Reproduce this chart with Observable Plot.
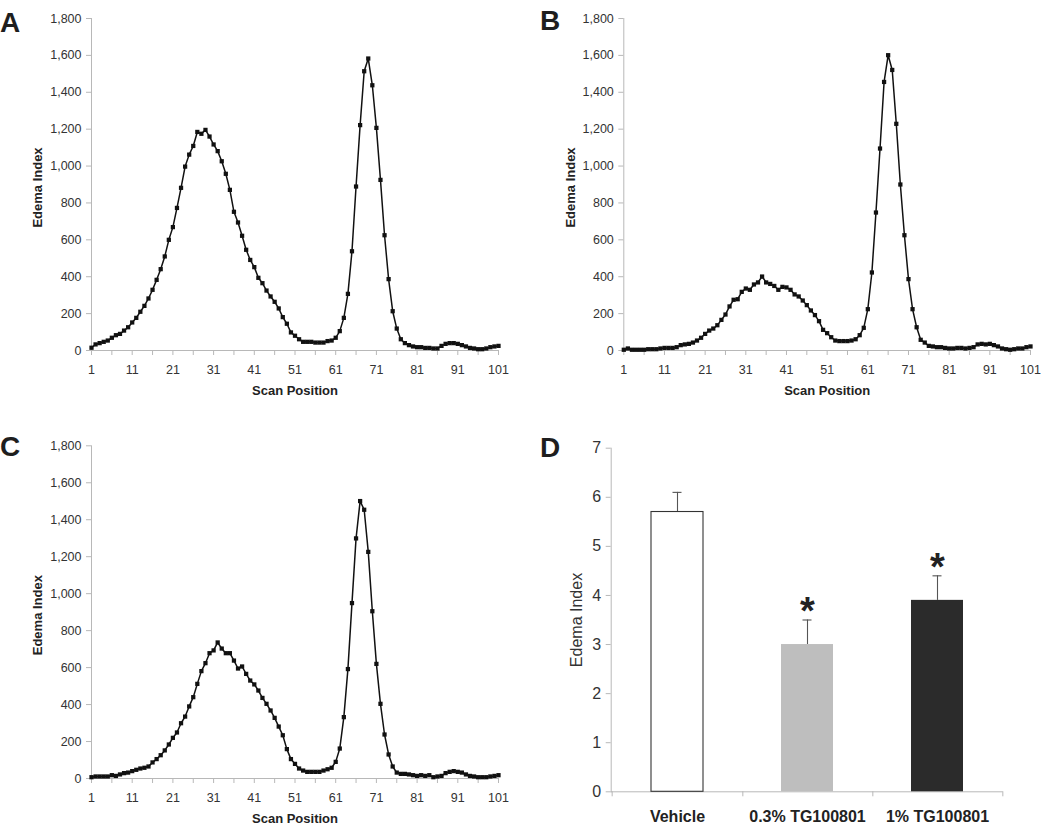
<!DOCTYPE html>
<html>
<head>
<meta charset="utf-8">
<script src="https://cdn.jsdelivr.net/npm/d3@7"></script>
<script src="https://cdn.jsdelivr.net/npm/@observablehq/plot@0.6"></script>
<style>
  body { margin: 0; background: #fff; }
  #fig { position: relative; width: 1050px; height: 836px; font-family: "Liberation Sans", Arial, Helvetica, sans-serif; background: #fff; }
  .panel { position: absolute; }
  .letter { position: absolute; font-weight: bold; font-size: 28px; line-height: 28px; color: #1e1e1e; }
</style>
</head>
<body>
<div id="fig"></div>
<script>
// ---------------- DATA ----------------
const panelA = [15,33,40,47,54,69,83,90,108,126,
  152,177,210,242,282,329,383,441,510,600,
  669,773,882,997,1062,1109,1185,1175,1196,1160,
  1117,1081,1026,958,871,752,694,622,546,491,
  452,394,365,325,293,264,228,181,145,98,
  80,61,47,47,47,43,43,43,51,54,
  69,105,177,307,538,889,1222,1514,1583,1438,
  1207,925,625,387,213,119,61,40,29,22,
  18,18,14,14,11,11,25,36,40,40,
  36,29,22,14,11,7,7,11,18,22,25];

const panelB = [4,11,4,4,4,4,7,7,7,11,
  14,14,14,18,29,33,36,43,54,69,
  90,108,119,137,166,195,239,275,278,318,
  336,329,358,369,401,369,361,350,329,345,
  342,329,304,293,271,246,217,192,159,112,
  94,72,54,51,51,51,54,61,83,123,
  224,423,748,1095,1456,1601,1521,1229,900,625,
  387,224,126,58,43,25,22,18,18,14,
  11,11,14,14,11,14,18,33,36,33,
  36,29,22,11,7,4,7,11,11,18,22];

const panelC = [7,11,11,11,11,18,14,22,29,32,
  40,47,54,58,65,87,105,126,152,184,
  220,249,299,335,390,440,512,581,624,678,
  693,736,703,678,678,638,595,606,566,530,
  509,476,436,404,368,328,281,234,159,105,
  79,54,43,36,36,36,36,43,50,58,
  90,162,332,592,949,1299,1501,1454,1226,905,
  620,404,238,130,65,32,25,25,22,18,
  14,18,14,18,7,11,14,29,36,40,
  36,32,22,14,11,7,7,7,11,14,18];

const scanTickLabels = [1, 11, 21, 31, 41, 51, 61, 71, 81, 91, 101];
const scanMinorTicks = [1, 6, 11, 16, 21, 26, 31, 36, 41, 46, 51, 56, 61, 66, 71, 76, 81, 86, 91, 96, 101];
const edemaTicks = [0, 200, 400, 600, 800, 1000, 1200, 1400, 1600, 1800];

const groups = ["Vehicle", "0.3% TG100801", "1% TG100801"];
const groupMeans = [5.7, 3.0, 3.9];
const groupErrors = [0.4, 0.5, 0.5];
const groupSignificant = [false, true, true];
const barTicks = [0, 1, 2, 3, 4, 5, 6, 7];

// ---------------- STYLE ----------------
const FONT = '"Liberation Sans", Arial, Helvetica, sans-serif';
const AXIS = "#b8b8b8";
const TEXT = "#333";
const barFills = ["#ffffff", "#bebebe", "#2b2b2b"];

const fig = document.getElementById("fig");

function place(el, left, top) {
  el.classList.add("panel");
  el.style.left = left + "px";
  el.style.top = top + "px";
  fig.appendChild(el);
}

function letter(t, left, top) {
  const d = document.createElement("div");
  d.className = "letter";
  d.textContent = t;
  d.style.left = left + "px";
  d.style.top = top + "px";
  fig.appendChild(d);
}

function scanPanel(values, dims) {
  const data = values.map((v, i) => ({pos: i + 1, value: v}));
  return Plot.plot({
    width: dims.width, height: dims.height,
    marginLeft: dims.marginLeft, marginRight: dims.marginRight,
    marginTop: dims.marginTop, marginBottom: dims.marginBottom,
    style: {fontFamily: FONT, fontSize: "12.5px", color: TEXT, background: "transparent", overflow: "visible"},
    x: {domain: [1, 101]},
    y: {domain: [0, 1800]},
    marks: [
      Plot.ruleX([1], {stroke: AXIS}),
      Plot.ruleY([0], {stroke: AXIS}),
      Plot.axisY({ticks: edemaTicks, tickFormat: d3.format(","), tickSize: 5, tickPadding: 5, stroke: AXIS, fill: TEXT, label: null}),
      Plot.axisX({ticks: scanMinorTicks, tickFormat: () => "", tickSize: 5, stroke: AXIS, label: null}),
      Plot.axisX({ticks: scanTickLabels, tickSize: 0, tickPadding: 15, fill: TEXT, label: null}),
      Plot.line(data, {x: "pos", y: "value", stroke: "#111", strokeWidth: 1.5}),
      Plot.dot(data, {x: "pos", y: "value", symbol: "square", r: 2.4, fill: "#111", stroke: "none"}),
      Plot.text(["Scan Position"], {text: d => d, frameAnchor: "bottom", textAnchor: "middle", dy: 44, fontWeight: "bold", fontSize: 13, fill: "#222"}),
      Plot.text(["Edema Index"], {text: d => d, frameAnchor: "left", textAnchor: "middle", lineAnchor: "middle", dx: dims.titleDx, dy: 3, rotate: -90, fontWeight: "bold", fontSize: 13, fill: "#222"})
    ]
  });
}

// Panel A
place(scanPanel(panelA, {width: 520, height: 400, marginLeft: 91, marginRight: 22, marginTop: 18, marginBottom: 50, titleDx: -54}), 0, 0);
// Panel B
place(scanPanel(panelB, {width: 530, height: 400, marginLeft: 103.3, marginRight: 20, marginTop: 18, marginBottom: 50, titleDx: -53}), 520, 0);
// Panel C
place(scanPanel(panelC, {width: 520, height: 416, marginLeft: 91, marginRight: 22, marginTop: 25.3, marginBottom: 58, titleDx: -54}), 0, 420);

// Panel D
const barData = groups.map((g, i) => ({group: g, mean: groupMeans[i], err: groupErrors[i], sig: groupSignificant[i]}));
const dW = 530, dML = 90.7, dMR = 47.3;
const dStep = (dW - dML - dMR) / groups.length;
const panelD = Plot.plot({
  width: dW, height: 416, marginLeft: dML, marginRight: dMR, marginTop: 27.7, marginBottom: 44.7,
  style: {fontFamily: FONT, fontSize: "16px", color: TEXT, background: "transparent", overflow: "visible"},
  x: {domain: groups, paddingInner: 0.6, paddingOuter: 0.3},
  y: {domain: [0, 7]},
  color: {domain: groups, range: barFills},
  marks: [
    Plot.frame({anchor: "left", stroke: AXIS}),
    Plot.ruleY([0], {stroke: AXIS}),
    Plot.axisY({ticks: barTicks, tickFormat: d3.format("d"), tickSize: 5, tickPadding: 5, stroke: AXIS, fill: TEXT, label: null}),
    Plot.axisX({tickSize: 5, tickFormat: () => "", dx: dStep / 2, stroke: AXIS, label: null}),
    Plot.axisX({ticks: [groups[0]], tickSize: 5, tickFormat: () => "", dx: -dStep / 2, stroke: AXIS, label: null}),
    Plot.axisX({tickSize: 0, tickPadding: 19, fontWeight: "bold", fill: "#222", label: null}),
    Plot.ruleX(barData, {x: "group", y1: "mean", y2: d => d.mean + d.err, stroke: "#555", strokeWidth: 1.1}),
    Plot.tickY(barData, {x: "group", y: d => d.mean + d.err, stroke: "#555", strokeWidth: 1.1, insetLeft: 21.5, insetRight: 21.5}),
    Plot.barY(barData, {x: "group", y: "mean", fill: "group"}),
    Plot.barY(barData.filter(d => d.group === groups[0]), {x: "group", y: "mean", fill: "none", stroke: "#333", strokeWidth: 1.1}),
    Plot.text(barData.filter(d => d.sig), {x: "group", y: d => d.mean + d.err, text: () => "*", fontSize: 38, fontWeight: "bold", fill: "#222", dy: -8}),
    Plot.text(["Edema Index"], {text: d => d, frameAnchor: "left", textAnchor: "middle", lineAnchor: "middle", dx: -34, rotate: -90, fontSize: 16, fill: TEXT})
  ]
});
place(panelD, 520, 420);

letter("A", 0, 9);
letter("B", 540, 7);
letter("C", 0, 433);
letter("D", 540, 434);
</script>
</body>
</html>
